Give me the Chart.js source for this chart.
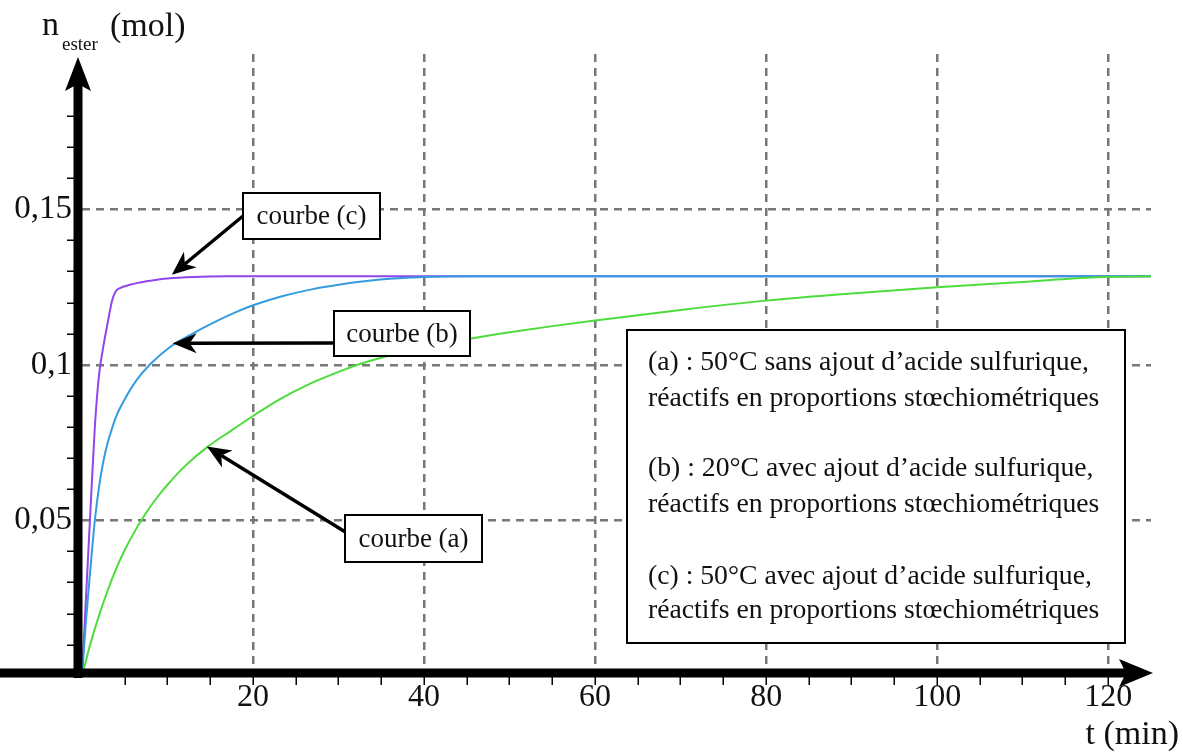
<!DOCTYPE html>
<html lang="fr">
<head>
<meta charset="utf-8">
<title>n ester en fonction du temps</title>
<script src="https://cdn.jsdelivr.net/npm/chart.js@4.4.1/dist/chart.umd.min.js"></script>
<style>
  html, body { margin: 0; padding: 0; background: #fff; }
  canvas { display: block; }
</style>
</head>
<body>
<canvas id="chart" width="1183" height="756"></canvas>
<script>
// courbe (a) : 50°C sans acide sulfurique
const tA = [0, 1, 2, 3, 4, 5, 6, 7, 8, 9, 10, 12, 14.6, 17.5, 20, 23, 26.5, 30, 32.5, 35.2, 40, 45.5, 50, 55, 60, 70, 80, 90, 100, 110, 118.5, 125];
const nA = [0, 0.0105, 0.0195, 0.0275, 0.0345, 0.0405, 0.0457, 0.0503, 0.0545, 0.0582, 0.0615, 0.0674, 0.0735, 0.079, 0.0836, 0.0888, 0.0938, 0.0978, 0.1003, 0.1025, 0.1056, 0.1085, 0.1105, 0.1125, 0.1143, 0.1177, 0.1207, 0.123, 0.125, 0.1267, 0.1282, 0.1285];

// courbe (b) : 20°C avec acide sulfurique
const tB = [0, 0.5, 1, 1.5, 2, 2.5, 3, 3.5, 4, 5, 6.4, 8, 10.3, 13, 15.5, 18, 20, 23.5, 27, 30, 33, 36, 40, 45, 125];
const nB = [0, 0.019, 0.035, 0.05, 0.061, 0.069, 0.075, 0.0795, 0.0835, 0.089, 0.0952, 0.1003, 0.1058, 0.1102, 0.1138, 0.117, 0.1192, 0.1222, 0.1244, 0.1258, 0.1269, 0.1277, 0.1283, 0.1285, 0.1285];

// courbe (c) : 50°C avec acide sulfurique
const tC = [0, 0.5, 1, 1.5, 2, 2.5, 3, 3.5, 3.9, 4.5, 5.5, 6.5, 8, 10, 13, 17, 125];
const nC = [0, 0.027, 0.054, 0.08, 0.097, 0.106, 0.1135, 0.1205, 0.1235, 0.1248, 0.1257, 0.1264, 0.1271, 0.1278, 0.1283, 0.1285, 0.1285];

const xLabels = { 20: '20', 40: '40', 60: '60', 80: '80', 100: '100', 120: '120' };
const yLabels = { 5: '0,05', 10: '0,1', 15: '0,15' };

const legendLines = [
    '(a) : 50°C sans ajout d’acide sulfurique,',
    'réactifs en proportions stœchiométriques',
    '(b) : 20°C avec ajout d’acide sulfurique,',
    'réactifs en proportions stœchiométriques',
    '(c) : 50°C avec ajout d’acide sulfurique,',
    'réactifs en proportions stœchiométriques',
];

const X_MAX = 125, Y_MAX = 0.2;
const SERIF = '"Liberation Serif", "DejaVu Serif", serif';
const GRID = '#777';
const NONE = 'rgba(0,0,0,0)';

const pts = (ts, ns) => ts.map((t, i) => ({ x: t, y: ns[i] }));
const yKey = (v) => Math.round(v * 100);
const isMajorX = (v) => xLabels[v] !== undefined;
const isMajorY = (v) => yLabels[yKey(v)] !== undefined;

// boxes are in pixels, arrow tips point at data coords
const notes = [
    { text: 'courbe (c)', box: [243, 193, 137, 46], from: [243, 216], to: [10.5, 0.129] },
    { text: 'courbe (b)', box: [334, 311, 136, 45], from: [334, 343], to: [10.6, 0.107] },
    { text: 'courbe (a)', box: [345, 515, 137, 47], from: [347, 533], to: [14.6, 0.0738] },
];

const arrowHead = (ctx, x1, y1, x2, y2, len, half, back, lw) => {
    const a = Math.atan2(y2 - y1, x2 - x1);
    ctx.lineWidth = lw;
    ctx.beginPath();
    ctx.moveTo(x1, y1);
    ctx.lineTo(x2 - Math.cos(a) * back, y2 - Math.sin(a) * back);
    ctx.stroke();
    ctx.save();
    ctx.translate(x2, y2);
    ctx.rotate(a);
    ctx.beginPath();
    ctx.moveTo(0, 0);
    ctx.lineTo(-len, -half);
    ctx.lineTo(-back, 0);
    ctx.lineTo(-len, half);
    ctx.closePath();
    ctx.fill();
    ctx.restore();
};

const decor = {
    id: 'decor',
    afterDraw(chart) {
        const { ctx, scales: { x, y } } = chart;
        const x0 = x.getPixelForValue(0);
        const y0 = y.getPixelForValue(0);
        ctx.save();
        ctx.fillStyle = '#000';
        ctx.strokeStyle = '#000';
        ctx.lineCap = 'butt';

        // axes with arrows
        arrowHead(ctx, 0, y0 - 3, x.right + 2, y0 - 3, 34, 14, 27, 9);
        arrowHead(ctx, x0 - 4, y0 + 2, x0 - 4, y.top + 3, 34, 13, 27, 9);

        // title and unit
        ctx.fillStyle = '#111';
        ctx.textBaseline = 'alphabetic';
        ctx.textAlign = 'left';
        ctx.font = `34px ${SERIF}`;
        ctx.fillText('n', 42, 35);
        ctx.fillText('(mol)', 110, 36);
        ctx.font = `19px ${SERIF}`;
        ctx.fillText('ester', 62, 50);
        ctx.font = `34px ${SERIF}`;
        ctx.textAlign = 'right';
        ctx.fillText('t (min)', 1179, 744);

        // annotations
        ctx.font = `27px ${SERIF}`;
        ctx.textAlign = 'center';
        ctx.textBaseline = 'middle';
        notes.forEach(n => {
            const [bx, by, bw, bh] = n.box;
            const tx = x.getPixelForValue(n.to[0]);
            const ty = y.getPixelForValue(n.to[1]);
            ctx.fillStyle = '#000';
            arrowHead(ctx, n.from[0], n.from[1], tx, ty, 24, 10, 17, 3.5);
            ctx.fillStyle = '#fff';
            ctx.fillRect(bx, by, bw, bh);
            ctx.lineWidth = 2;
            ctx.strokeRect(bx, by, bw, bh);
            ctx.fillStyle = '#111';
            ctx.fillText(n.text, bx + bw / 2, by + bh / 2 + 1);
        });

        // legend box
        ctx.fillStyle = '#fff';
        ctx.fillRect(627, 330, 498, 313);
        ctx.lineWidth = 2;
        ctx.strokeRect(627, 330, 498, 313);
        ctx.fillStyle = '#111';
        ctx.textAlign = 'left';
        ctx.font = `27.7px ${SERIF}`;
        const rows = [363, 399, 469, 505, 577, 611];
        legendLines.forEach((line, i) => ctx.fillText(line, 648, rows[i]));
        ctx.restore();
    }
};

new Chart(document.getElementById('chart'), {
    type: 'scatter',
    data: {
        datasets: [
            { label: '(a)', data: pts(tA, nA), borderColor: '#4cdc3c', order: 0 },
            { label: '(b)', data: pts(tB, nB), borderColor: '#349be0', order: 1 },
            { label: '(c)', data: pts(tC, nC), borderColor: '#9046ec', order: 2 },
        ]
    },
    options: {
        responsive: false,
        animation: false,
        devicePixelRatio: 1,
        layout: { padding: { top: 54, right: 32, left: 0, bottom: 0 } },
        plugins: { legend: { display: false }, tooltip: { enabled: false } },
        datasets: {
            scatter: { showLine: true, pointRadius: 0, borderWidth: 2, cubicInterpolationMode: 'monotone' }
        },
        scales: {
            x: {
                type: 'linear', min: 0, max: X_MAX,
                afterFit: (s) => { s.height = 80; },
                border: { display: false, dash: [8, 6] },
                grid: {
                    color: (c) => c.tick && isMajorX(c.tick.value) ? GRID : NONE,
                    lineWidth: 2.5,
                    tickColor: (c) => c.tick && c.tick.value > 0 && c.tick.value < X_MAX ? '#000' : NONE,
                    tickLength: 9,
                    tickWidth: 1.5,
                },
                ticks: {
                    stepSize: 5, maxTicksLimit: 100, autoSkip: false, maxRotation: 0, padding: -7,
                    color: '#111', font: { family: SERIF, size: 32 },
                    callback: (v) => xLabels[v] || '',
                },
            },
            y: {
                type: 'linear', min: 0, max: Y_MAX,
                afterFit: (s) => { s.width = 82; },
                border: { display: false, dash: [8, 6] },
                grid: {
                    color: (c) => c.tick && isMajorY(c.tick.value) ? GRID : NONE,
                    lineWidth: 2.5,
                    tickColor: (c) => {
                        if (!c.tick) return NONE;
                        const k = yKey(c.tick.value);
                        return k > 0 && k < 19 && !isMajorY(c.tick.value) ? '#000' : NONE;
                    },
                    tickLength: 15,
                    tickWidth: 1.5,
                },
                ticks: {
                    stepSize: 0.01, maxTicksLimit: 100, autoSkip: false, padding: -5,
                    color: '#111', font: { family: SERIF, size: 33 },
                    callback: (v) => yLabels[yKey(v)] || '',
                },
            },
        },
    },
    plugins: [decor],
});
</script>
</body>
</html>
